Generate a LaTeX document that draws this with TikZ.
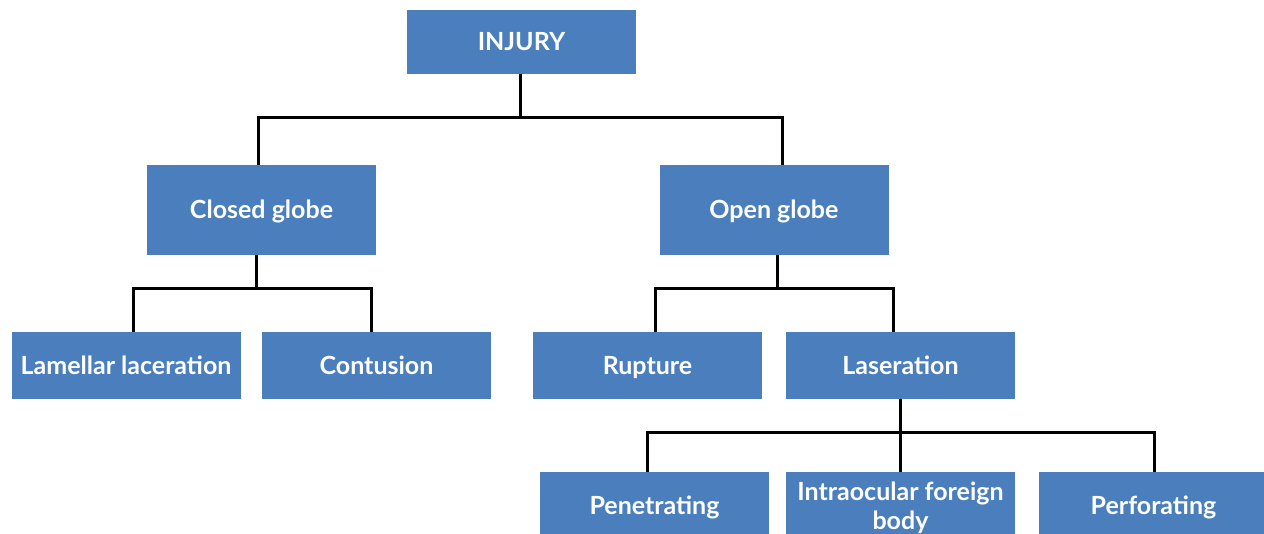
\documentclass[tikz,border=0pt]{standalone}
\usepackage{fontspec}
\setmainfont{Lato}
\definecolor{boxblue}{HTML}{4A7EBD}
\begin{document}
\begin{tikzpicture}
[
    x=1pt, y=-1pt,
    common/.style={shape=rectangle, fill=boxblue, text=white, inner sep=0pt,
        minimum width=229pt, align=center, text height=18pt, text depth=0pt,
        font=\fontsize{25}{29}\selectfont\bfseries},
    top/.style={minimum height=64pt},
    tall/.style={minimum height=90pt},
    flat/.style={minimum height=67pt},
    link/.style={line width=3pt},
]
\useasboundingbox (0,0) rectangle (1264,534);
\clip (0,0) rectangle (1264,534);

\node[common, top] (injury) at (521.5,42) {INJURY};

\node[common, tall] (closed) at (261.5,210) {Closed globe};
\node[common, tall] (open) at (774,210) {Open globe};

\node[common, flat] (lamellar) at (126,365.5) {Lamellar laceration};
\node[common, flat] (contusion) at (376.5,365.5) {Contusion};
\node[common, flat] (rupture) at (647.5,365.5) {Rupture};
\node[common, flat] (laseration) at (900.5,365.5) {Laseration};

\node[common, flat] (penetrating) at (654.5,505.5) {Penetrating};
\node[common, flat, text height=47pt] (intraocular) at (900.5,505.5) {Intraocular foreign\\body};
\node[common, flat] (perforating) at (1153.5,505.5) {Perforating};

% injury
\draw[link] ([xshift=-1pt]injury.south) -- ++(0,43) -| ([xshift=-3.5pt]closed.north);
\draw[link] ([xshift=-1pt]injury.south) -- ++(0,43) -| ([xshift=8pt]open.north);
% closed globe
\draw[link] ([xshift=-5.5pt]closed.south) -- ++(0,33) -| ([xshift=7pt]lamellar.north);
\draw[link] ([xshift=-5.5pt]closed.south) -- ++(0,33) -| ([xshift=-5.5pt]contusion.north);
% open globe
\draw[link] ([xshift=3pt]open.south) -- ++(0,33) -| ([xshift=7.5pt]rupture.north);
\draw[link] ([xshift=3pt]open.south) -- ++(0,33) -| ([xshift=-7.5pt]laseration.north);
% laseration
\draw[link] (laseration.south) -- (intraocular.north);
\draw[link] ([yshift=-33pt]laseration.south) -| ([xshift=-7.5pt]penetrating.north);
\draw[link] ([yshift=-33pt]laseration.south) -| ([xshift=0.5pt]perforating.north);
\end{tikzpicture}
\end{document}
